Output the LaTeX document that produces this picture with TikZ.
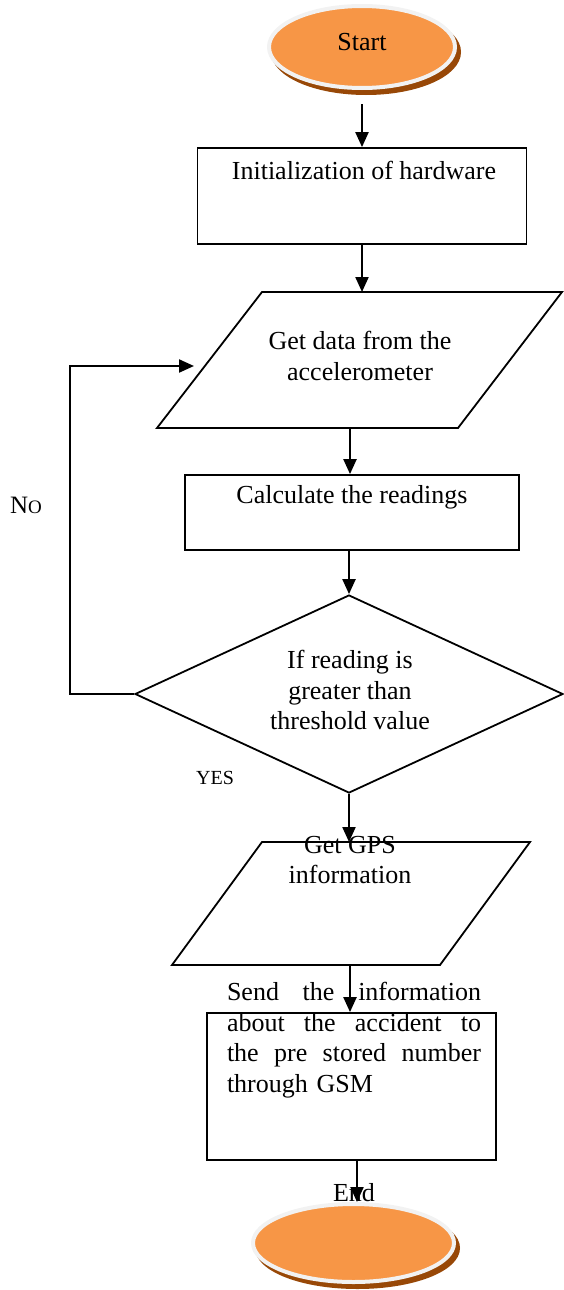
\documentclass[tikz,border=0pt]{standalone}
\usepackage{fontspec}
\setmainfont{Liberation Serif}
\usetikzlibrary{arrows.meta,%
                shapes.geometric,%
                shadows}
\definecolor{termorange}{HTML}{F79646}
\definecolor{termshadow}{HTML}{984807}
\definecolor{termrim}{HTML}{F2F2F2}

\begin{document}
\begin{tikzpicture}[x=1pt, y=-1pt]
\tikzset{FlowStyle/.style = {-{Triangle[length=15pt, width=13pt]}, line width=2.2pt},
         BoxStyle/.style  = {draw, rectangle, line width=1.8pt, inner sep=0pt},
         IOStyle/.style   = {draw, line width=1.8pt, line join=miter},
         TermStyle/.style = {ellipse, fill=termorange, draw=termrim, line width=4pt,
                             inner sep=0pt,
                             drop shadow={shadow xshift=4pt, shadow yshift=-5pt,
                                          fill=termshadow, draw=termshadow,
                                          line width=4pt, opacity=1}},
         TextStyle/.style = {font=\fontsize{26}{30.5}\selectfont, align=center,
                             inner sep=0pt}}
\useasboundingbox (0,0) rectangle (563,1290);

% start
\node[TermStyle, minimum width=186pt, minimum height=82pt] (start) at (362,47) {};
\node[TextStyle] (starttxt) at (362,42) {Start};

% hardware
\node[BoxStyle, minimum width=329pt, minimum height=96pt] (init) at (362,196) {};
\node[TextStyle] (inittxt) at (364,170) {Initialization of hardware};

% accelerometer
\draw[IOStyle] (262,292) -- (562,292) -- (458,428) -- (157,428) -- cycle;
\coordinate (getin) at (362,292);
\coordinate (getout) at (350,428);
\coordinate (getloop) at (194,366);
\node[TextStyle] (gettxt) at (360,356) {Get data from the\\accelerometer};

% readings
\node[BoxStyle, minimum width=334pt, minimum height=75pt] (calc) at (352,512.5) {};
\node[TextStyle] (calctxt) at (352,497) {Calculate the readings};

% threshold
\node[diamond, draw, line width=1.8pt, aspect=2.16, minimum width=428pt,
      minimum height=198pt] (check) at (349,694) {};
\node[TextStyle] (checktxt) at (350,690) {If reading is\\greater than\\threshold value};
\coordinate (loopleft) at (70,694);
\node[font=\fontsize{25}{25}\selectfont, inner sep=0pt] (nolbl) at (26,505) {N{\fontsize{19}{19}\selectfont O}};
\node[font=\fontsize{20}{20}\selectfont, inner sep=0pt] (yeslbl) at (215,778) {YES};

% gps
\draw[IOStyle] (262,842) -- (530,842) -- (440,965) -- (172,965) -- cycle;
\coordinate (gpsin) at (350,842);
\coordinate (gpsout) at (350,965);
\node[TextStyle] (gpstxt) at (350,860) {Get GPS\\information};

% gsm
\node[BoxStyle, minimum width=289pt, minimum height=147pt] (send) at (351.5,1086.5) {};
\node[TextStyle, text width=254pt, align=left] (sendtxt) at (354,1040)
  {Send\hfill the\hfill information\\
   about\hfill the\hfill accident\hfill to\\
   the\hfill pre\hfill stored\hfill number\\
   through GSM};

% end
\node[TextStyle] (endtxt) at (354,1193) {End};
\node[TermStyle, minimum width=201pt, minimum height=78pt] (stop) at (353.5,1243) {};

% arrows
\draw[FlowStyle] ([yshift=-14pt]start.south) -- (init.north);
\draw[FlowStyle] (init.south) -- (getin);
\draw[FlowStyle] (getout) -- (getout |- calc.north);
\draw[FlowStyle] (check.north |- calc.south) -- (check.north);
\draw[FlowStyle] (check.west) -- (loopleft) |- (getloop);
\draw[FlowStyle] (check.south) -- (check.south |- gpsin);
\draw[FlowStyle] (gpsout) -- (gpsout |- send.north);
\draw[FlowStyle] ([xshift=5.5pt]send.south) -- ([xshift=5.5pt]send.south |- stop.north);

\end{tikzpicture}
\end{document}
